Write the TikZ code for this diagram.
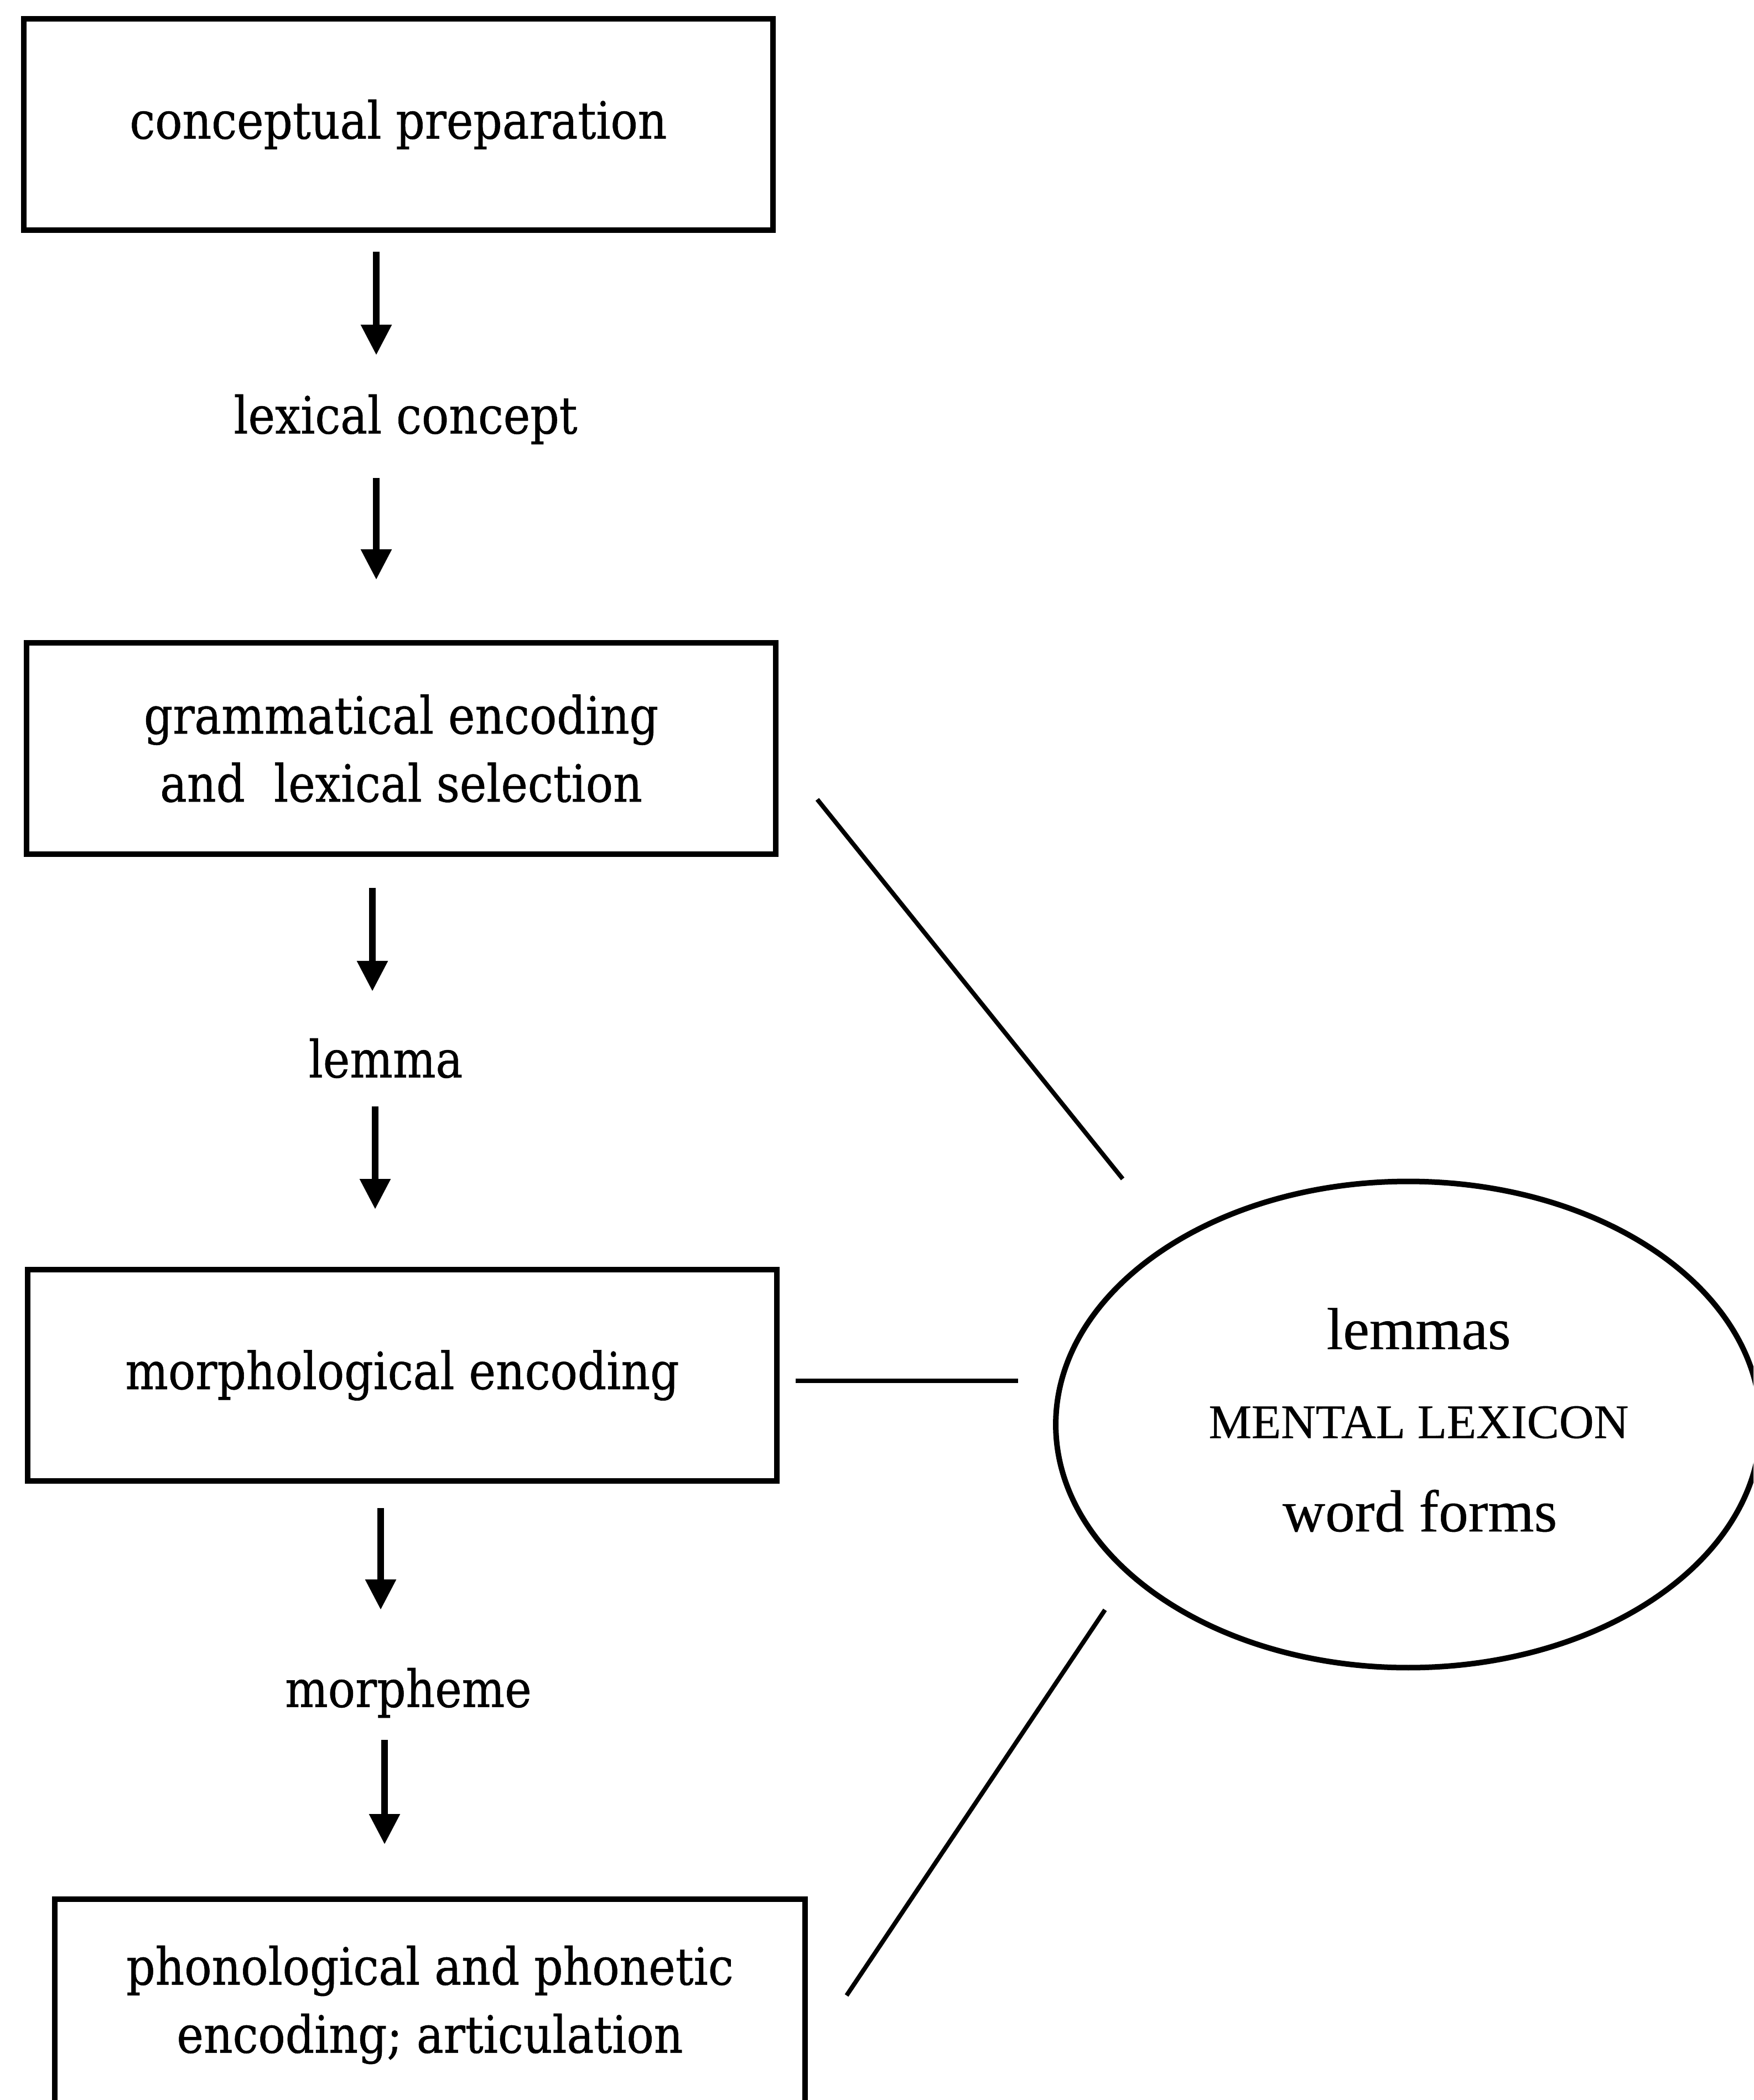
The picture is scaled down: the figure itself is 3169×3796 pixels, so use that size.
\documentclass[tikz,border=0pt]{standalone}
\usepackage{fontspec}
\setmainfont{Liberation Serif}
\newfontfamily\slabfont[FakeStretch=0.88,FakeBold=0.6]{DejaVu Serif}
\newfontfamily\lexfont[FakeBold=0.4]{Liberation Serif}
\usetikzlibrary{arrows.meta,shapes.geometric}

\begin{document}
\begin{tikzpicture}[x=0.1pt,y=-0.1pt,
  stagebox/.style={draw,line width=1pt,inner sep=0pt,align=center,
    minimum width=135.4pt,minimum height=38.2pt,
    font=\slabfont\fontsize{9.3}{12.3}\selectfont},
  stagetext/.style={inner sep=0pt,font=\slabfont\fontsize{9.3}{12.3}\selectfont},
  lextext/.style={inner sep=0pt,font=\lexfont\fontsize{10.7}{12}\selectfont},
  flow/.style={line width=1.2pt,-{Triangle[width=5.3pt,length=5.5pt]}},
  link/.style={line width=0.8pt},
]
\clip (0,0) rectangle (3169,3796);
\fill[white] (0,0) rectangle (3169,3796);

% processing stages
\node[stagebox] (concept) at (720,225) {conceptual preparation};
\node[stagetext] (lexcon) at (733,758) {lexical concept};
\node[stagebox] (gram) at (725,1353) {grammatical encoding\\and~~lexical selection};
\node[stagetext] (lemma) at (697,1913) {lemma};
\node[stagebox] (morph) at (727,2486) {morphological encoding};
\node[stagetext] (morpheme) at (738,3060) {morpheme};
\node[stagebox,minimum width=135.6pt] (phon) at (777,3624) {phonological and phonetic\\encoding; articulation};

% the mental lexicon
\node[draw,ellipse,line width=1pt,minimum width=127.4pt,minimum height=87.9pt] (lexicon) at (2545,2575) {};
\node[lextext] (lemmas) at (2564,2402) {lemmas};
\node[lextext,font=\lexfont\fontsize{8.7}{10}\selectfont] (mental) at (2564,2571) {MENTAL LEXICON};
\node[lextext] (forms) at (2566,2731) {word forms};

% arrow ends between stages
\coordinate (a1s) at (680,455);  \coordinate (a1e) at (680,642);
\coordinate (a2s) at (680,864);  \coordinate (a2e) at (680,1048);
\coordinate (a3s) at (673,1605); \coordinate (a3e) at (673,1792);
\coordinate (a4s) at (678,2000); \coordinate (a4e) at (678,2186);
\coordinate (a5s) at (688,2726); \coordinate (a5e) at (688,2910);
\coordinate (a6s) at (695,3145); \coordinate (a6e) at (695,3334);
\draw[flow] (a1s) -- (a1e);
\draw[flow] (a2s) -- (a2e);
\draw[flow] (a3s) -- (a3e);
\draw[flow] (a4s) -- (a4e);
\draw[flow] (a5s) -- (a5e);
\draw[flow] (a6s) -- (a6e);

% links to the lexicon
\coordinate (l1s) at (1477,1445); \coordinate (l1e) at (2029,2131);
\coordinate (l2s) at (1438,2496); \coordinate (l2e) at (1840,2496);
\coordinate (l3s) at (1530,3607); \coordinate (l3e) at (1997,2910);
\draw[link] (l1s) -- (l1e);
\draw[link] (l2s) -- (l2e);
\draw[link] (l3s) -- (l3e);
\end{tikzpicture}
\end{document}
